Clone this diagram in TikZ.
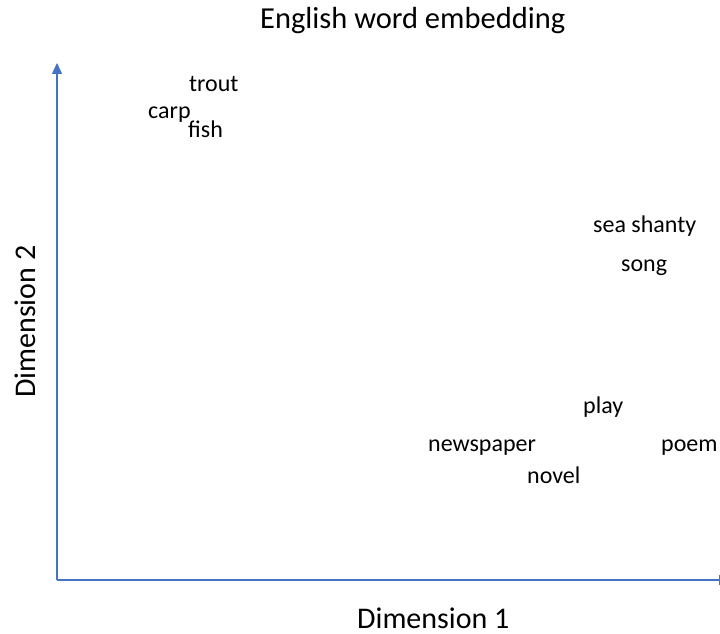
\documentclass[tikz,border=0pt]{standalone}
\usepackage{fontspec}
\setmainfont{Carlito}
\usetikzlibrary{arrows.meta}
\definecolor{axisblue}{HTML}{4472C4}
\begin{document}
\begin{tikzpicture}[x=1pt,y=-1pt,
  word/.style={anchor=base west,inner sep=0pt,font=\fontsize{24}{28}\selectfont},
  titletext/.style={anchor=base west,inner sep=0pt,font=\fontsize{30.5}{34}\selectfont},
  axislabel/.style={anchor=base west,inner sep=0pt,font=\fontsize{30}{34}\selectfont},
  axisline/.style={draw=axisblue,line width=1.5pt,-{Triangle[length=11pt,width=10pt]}}]
\useasboundingbox (0,0) rectangle (720,634);
\coordinate (o) at (57,580);
\coordinate (ytop) at (57,63);
\coordinate (xend) at (730,580);
\begin{scope}
\clip (0,0) rectangle (720,634);
\draw[axisline] (o) -- (ytop);
\draw[axisline] (o) -- (xend);
\end{scope}
\node[titletext] (title) at (260,29) {English word embedding};
\node[word] (trout) at (189,92) {trout};
\node[word] (carp) at (148,118) {carp};
\node[word] (fish) at (188,137) {fish};
\node[word] (shanty) at (593,232) {sea shanty};
\node[word] (song) at (621,271) {song};
\node[word] (play) at (583,413) {play};
\node[word] (newspaper) at (428,451) {newspaper};
\node[word] (poem) at (661,451) {poem};
\node[word] (novel) at (527,483) {novel};
\node[axislabel] (dim1) at (357,628) {Dimension 1};
\node[axislabel,rotate=90] (dim2) at (35,398) {Dimension 2};
\end{tikzpicture}
\end{document}
